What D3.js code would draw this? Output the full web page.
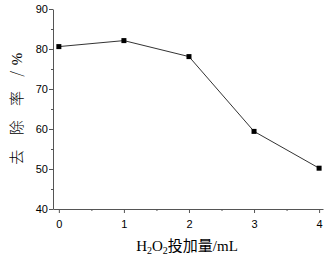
<!DOCTYPE html>
<html>
<head>
<meta charset="utf-8">
<script src="https://cdn.jsdelivr.net/npm/d3@7"></script>
<style>
  body { margin: 0; background: #fff; }
  svg { display: block; }
</style>
</head>
<body>
<svg id="chart" width="330" height="257"></svg>
<script>
/* DATA */
const dose = [0, 1, 2, 3, 4];
const removal = [80.6, 82.1, 78.1, 59.4, 50.2];
const xTicks = [0, 1, 2, 3, 4];
const yTicks = [40, 50, 60, 70, 80, 90];

/* LAYOUT */
const width = 330, height = 257;
const margin = { top: 9, bottom: 48, left: 53, right: 7 };

const svg = d3.select("#chart");

const x = d3.scaleLinear().domain([-0.09, 4.06]).range([margin.left, width - margin.right]);
const y = d3.scaleLinear().domain([40, 90]).range([height - margin.bottom, margin.top]);

const axisColor = "#555";

// x axis with minor ticks
const xAxis = svg.append("g")
  .attr("transform", `translate(0,${height - margin.bottom})`)
  .call(d3.axisBottom(x).tickValues(xTicks).tickFormat(d3.format("d")).tickSize(4).tickSizeOuter(0));
svg.append("g")
  .attr("transform", `translate(0,${height - margin.bottom})`)
  .call(d3.axisBottom(x).tickValues([0.5, 1.5, 2.5, 3.5]).tickFormat("").tickSize(2).tickSizeOuter(0))
  .select(".domain").remove();

// y axis with minor ticks
const yAxis = svg.append("g")
  .attr("transform", `translate(${margin.left},0)`)
  .call(d3.axisLeft(y).tickValues(yTicks).tickSize(4).tickSizeOuter(0));
svg.append("g")
  .attr("transform", `translate(${margin.left},0)`)
  .call(d3.axisLeft(y).tickValues([45, 55, 65, 75, 85]).tickFormat("").tickSize(2).tickSizeOuter(0))
  .select(".domain").remove();

svg.selectAll(".domain, .tick line").attr("stroke", axisColor);
svg.selectAll(".tick text")
  .attr("fill", "#000")
  .style("font-family", "Liberation Sans, Arial, sans-serif")
  .style("font-size", "11px");
xAxis.selectAll(".tick text").attr("dy", "1.05em");
yAxis.selectAll(".tick text").attr("x", -5);

// line and markers
const pts = dose.map((d, i) => ({ x: d, y: removal[i] }));
svg.append("path")
  .datum(pts)
  .attr("fill", "none")
  .attr("stroke", "#333")
  .attr("stroke-width", 1)
  .attr("d", d3.line().x(d => x(d.x)).y(d => y(d.y)));

svg.selectAll("rect.pt")
  .data(pts)
  .enter()
  .append("rect")
  .attr("class", "pt")
  .attr("x", d => x(d.x) - 2.5)
  .attr("y", d => y(d.y) - 2.5)
  .attr("width", 5)
  .attr("height", 5)
  .attr("fill", "#000");

// y label
const yl = svg.append("text")
  .attr("transform", `translate(22,106) rotate(-90)`)
  .attr("text-anchor", "middle")
  .style("font-size", "15px")
  .style("letter-spacing", "5.5px")
  .style("font-family", "Noto Sans CJK SC, sans-serif")
  .style("font-weight", 300);
yl.append("tspan").text("去 除 率 /");
yl.append("tspan").text("%").style("font-family", "Liberation Serif, serif");

// x label
const xl = svg.append("text")
  .attr("x", 187)
  .attr("y", 251)
  .attr("text-anchor", "middle")
  .style("font-size", "15px")
  .style("font-family", "Liberation Serif, serif");
xl.append("tspan").text("H");
xl.append("tspan").text("2").attr("dy", 3).style("font-size", "10px");
xl.append("tspan").text("O").attr("dy", -3);
xl.append("tspan").text("2").attr("dy", 3).style("font-size", "10px");
xl.append("tspan").text("投加量").attr("dy", -3).style("font-family", "Noto Sans CJK SC, sans-serif");
xl.append("tspan").text("/mL");
</script>
</body>
</html>
